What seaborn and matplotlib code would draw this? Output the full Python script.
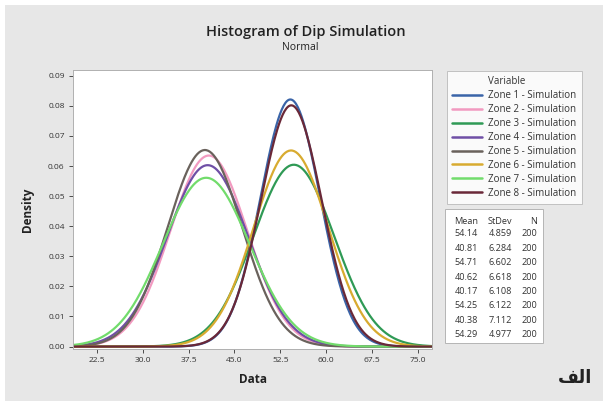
import numpy as np
import pandas as pd
import matplotlib
matplotlib.use("Agg")
import matplotlib.pyplot as plt
from matplotlib.lines import Line2D
from matplotlib.patches import Rectangle
import seaborn as sns

# ---- data ----
zones = ["Zone 1 - Simulation", "Zone 2 - Simulation", "Zone 3 - Simulation",
         "Zone 4 - Simulation", "Zone 5 - Simulation", "Zone 6 - Simulation",
         "Zone 7 - Simulation", "Zone 8 - Simulation"]
means = [54.14, 40.81, 54.71, 40.62, 40.17, 54.25, 40.38, 54.29]
stdevs = [4.859, 6.284, 6.602, 6.618, 6.108, 6.122, 7.112, 4.977]
counts = [200, 200, 200, 200, 200, 200, 200, 200]
mean_labels = ["54.14", "40.81", "54.71", "40.62", "40.17", "54.25", "40.38", "54.29"]
sd_labels = ["4.859", "6.284", "6.602", "6.618", "6.108", "6.122", "7.112", "4.977"]
x_ticks = [22.5, 30.0, 37.5, 45.0, 52.5, 60.0, 67.5, 75.0]
y_ticks = [0.00, 0.01, 0.02, 0.03, 0.04, 0.05, 0.06, 0.07, 0.08, 0.09]
colors = ["#3a64a8", "#f29ac0", "#2f9a55", "#6f4fa6", "#6a625c", "#d8ab30", "#72dc6c", "#6a2838"]

XMIN, XMAX = 18.6, 77.3

# fitted normal curves from the distribution parameters
xs = np.linspace(XMIN, XMAX, 400)
frames = []
for z, m, s in zip(zones, means, stdevs):
    d = np.exp(-0.5 * ((xs - m) / s) ** 2) / (s * np.sqrt(2 * np.pi))
    frames.append(pd.DataFrame({"Data": xs, "Density": d, "Variable": z}))
df = pd.concat(frames, ignore_index=True)

sns.set_style("white")
plt.rcParams["font.family"] = ["Open Sans", "DejaVu Sans"]

W, H = 603, 401
fig = plt.figure(figsize=(W / 100, H / 100), dpi=100)
fig.patch.set_facecolor("white")
fig.patches.append(Rectangle((5 / W, 0), 1 - 5 / W, 1 - 5 / H, transform=fig.transFigure,
                             facecolor="#e7e7e7", edgecolor="none", zorder=-10))

ax = fig.add_axes([73 / W, 1 - 349 / H, (432 - 73) / W, (349 - 70) / H])
ax.set_facecolor("white")
sns.lineplot(data=df, x="Data", y="Density", hue="Variable", hue_order=zones,
             palette=colors, linewidth=1.6, ax=ax, legend=False, sort=False)

ax.set_xlim(XMIN, XMAX)
ax.set_ylim(-0.0008, 0.0919)
ax.set_xticks(x_ticks)
ax.set_xticklabels([f"{t:.1f}" for t in x_ticks])
ax.set_yticks(y_ticks)
ax.set_yticklabels([f"{t:.2f}" for t in y_ticks])
ax.tick_params(axis="both", labelsize=6, colors="#333333", length=3, width=0.6,
               direction="out", pad=3, bottom=True, left=True)
for sp in ax.spines.values():
    sp.set_color("#b0b0b0")
    sp.set_linewidth(0.7)
ax.set_xlabel("Data", fontsize=8.5, fontweight="bold", color="#222222", labelpad=6)
ax.set_ylabel("Density", fontsize=8.5, fontweight="bold", color="#222222", labelpad=10)

fig.text(306 / W, 1 - 32 / H, "Histogram of Dip Simulation", ha="center", va="center",
         fontsize=10.5, fontweight="semibold", color="#222222")
fig.text(300 / W, 1 - 47 / H, "Normal", ha="center", va="center",
         fontsize=7.5, color="#222222")

# legend
handles = [Line2D([], [], color="none", lw=0)]
labels = ["Variable"]
for z, c in zip(zones, colors):
    handles.append(Line2D([], [], color=c, lw=1.8))
    labels.append(z)
leg = fig.legend(handles, labels, loc="upper left",
                 bbox_to_anchor=(447 / W, 1 - 71 / H), bbox_transform=fig.transFigure,
                 fontsize=7, frameon=True, fancybox=False, handlelength=3.1,
                 handletextpad=0.6, labelspacing=0.3, borderpad=0.55, borderaxespad=0)
leg.get_frame().set_edgecolor("#b5b5b5")
leg.get_frame().set_linewidth(0.7)
leg.get_frame().set_facecolor("white")
for t in leg.get_texts():
    t.set_color("#333333")

# statistics table
fig.patches.append(Rectangle((445 / W, 1 - 343 / H), (543 - 445) / W, (343 - 209) / H,
                             transform=fig.transFigure, facecolor="white",
                             edgecolor="#b5b5b5", linewidth=0.7, zorder=1))
ty = 221
fs = 6.6
fig.text(478 / W, 1 - ty / H, "Mean", ha="right", va="center", fontsize=fs, color="#333333", zorder=3)
fig.text(512 / W, 1 - ty / H, "StDev", ha="right", va="center", fontsize=fs, color="#333333", zorder=3)
fig.text(537 / W, 1 - ty / H, "N", ha="right", va="center", fontsize=fs, color="#333333", zorder=3)
for i, (ml, sl, n) in enumerate(zip(mean_labels, sd_labels, counts)):
    y = 234 + i * 14.4
    fig.text(478 / W, 1 - y / H, ml, ha="right", va="center", fontsize=fs, color="#333333", zorder=3)
    fig.text(512 / W, 1 - y / H, sl, ha="right", va="center", fontsize=fs, color="#333333", zorder=3)
    fig.text(537 / W, 1 - y / H, str(n), ha="right", va="center", fontsize=fs, color="#333333", zorder=3)

# Arabic label (visual order presentation forms for correct shaping)
fig.text(575 / W, 1 - 378 / H, "\uFED2\uFEDF\u0627", ha="center", va="center",
         fontsize=13, fontweight="bold", color="#222222", family=["DejaVu Sans"])

fig.savefig("out.png", dpi=100)
